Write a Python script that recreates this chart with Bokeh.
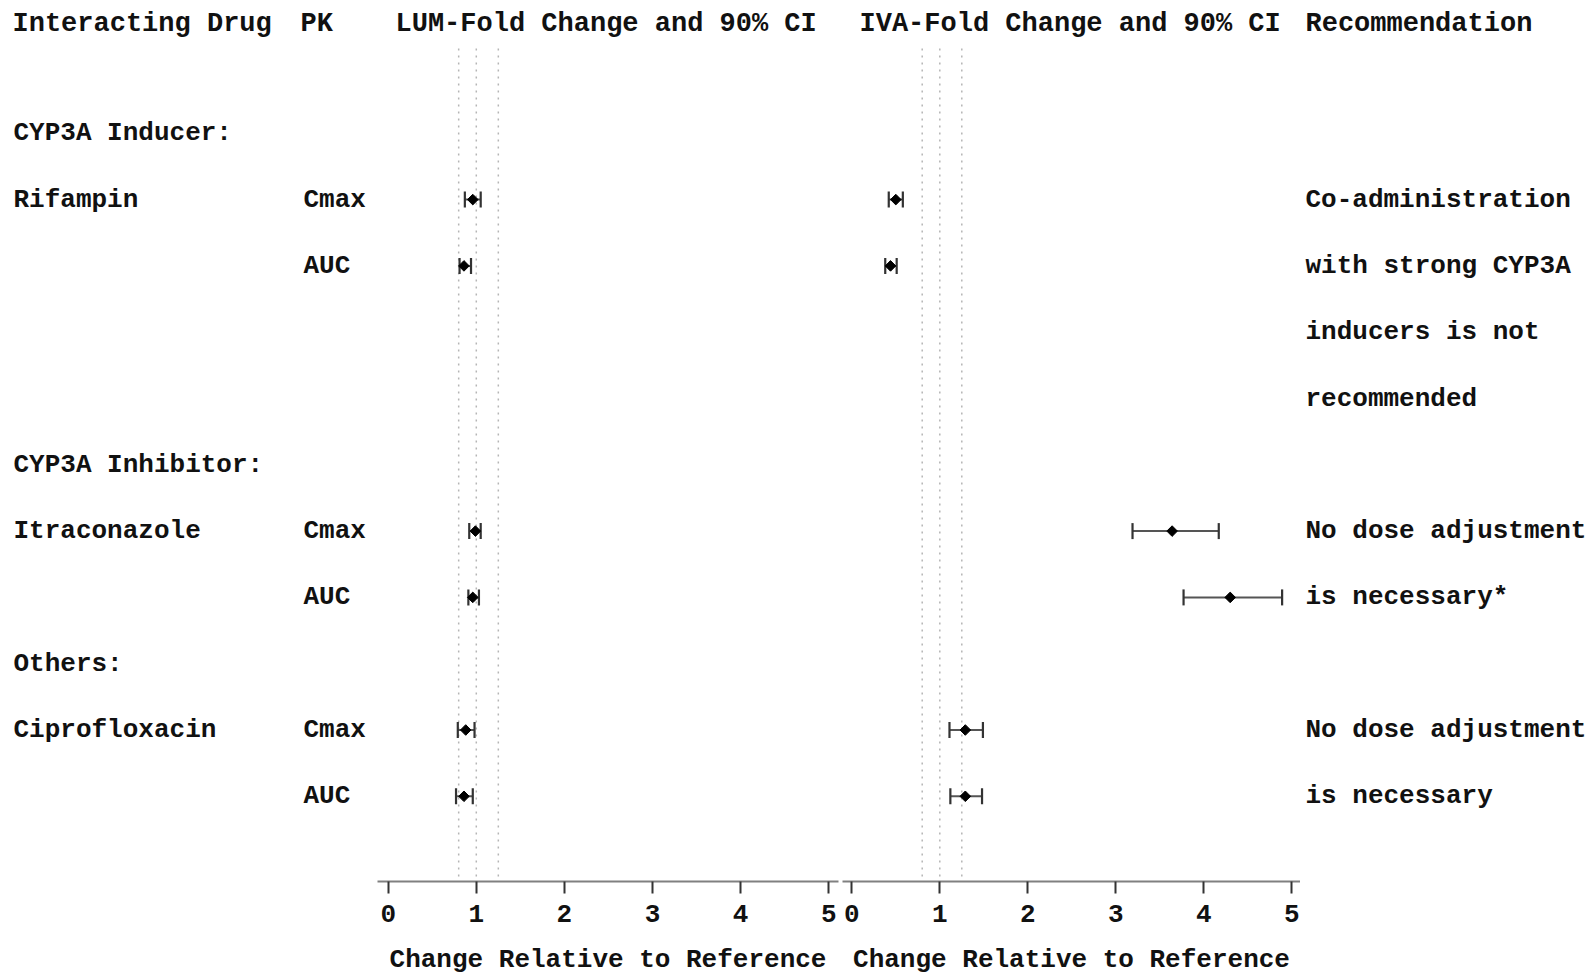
import math
from bokeh.plotting import figure
from bokeh.models import ColumnDataSource, Range1d, FixedTicker
from bokeh.layouts import row
from bokeh.core.properties import value
from bokeh.embed import file_html
from bokeh.resources import INLINE

# ---------------- data ----------------
headers = ["Interacting Drug", "PK", "LUM-Fold Change and 90% CI",
           "IVA-Fold Change and 90% CI", "Recommendation"]
group_labels = ["CYP3A Inducer:", "CYP3A Inhibitor:", "Others:"]
group_rows = [0, 5, 8]
drugs = ["Rifampin", "Itraconazole", "Ciprofloxacin"]
drug_rows = [1, 6, 9]
pk_labels = ["Cmax", "AUC", "Cmax", "AUC", "Cmax", "AUC"]
pk_rows = [1, 2, 6, 7, 9, 10]

lum_est = [0.96, 0.86, 0.99, 0.96, 0.88, 0.86]
lum_lo = [0.87, 0.81, 0.92, 0.91, 0.79, 0.77]
lum_hi = [1.05, 0.94, 1.05, 1.03, 0.98, 0.96]

iva_est = [0.50, 0.44, 3.64, 4.30, 1.29, 1.29]
iva_lo = [0.42, 0.38, 3.19, 3.77, 1.11, 1.12]
iva_hi = [0.58, 0.51, 4.17, 4.89, 1.49, 1.48]

rec_lines = ["Co-administration", "with strong CYP3A", "inducers is not",
             "recommended", "No dose adjustment", "is necessary*",
             "No dose adjustment", "is necessary"]
rec_rows = [1, 2, 3, 4, 6, 7, 9, 10]

ref_lines = [0.8, 1.0, 1.25]
ticks = [0, 1, 2, 3, 4, 5]
axis_title = "Change Relative to Reference"

# ---------------- layout (page pixels) ----------------
FONT = value("Liberation Mono")
FS = "26px"
FS_HEAD = "27px"
FRAME_TOP = 0
AXIS_Y = 881
ROW0_Y = 132.8
ROW_STEP = 66.3
HEADER_Y = 23.3
REF_TOP_Y = 48
FRAME_H = AXIS_Y - FRAME_TOP
BOTTOM = 88


def yrow(py):
    return (py - ROW0_Y) / ROW_STEP


Y_START = yrow(AXIS_Y)
Y_END = yrow(FRAME_TOP)
HEADER_ROW = yrow(HEADER_Y)


def base_fig(x_range, fw, axis=False, mbr=0):
    p = figure(frame_width=fw, frame_height=FRAME_H, x_range=x_range,
               y_range=Range1d(Y_START, Y_END), output_backend="svg",
               toolbar_location=None, min_border=0,
               min_border_right=mbr,
               min_border_bottom=0 if axis else BOTTOM)
    p.outline_line_color = None
    p.xgrid.visible = False
    p.ygrid.visible = False
    p.yaxis.visible = False
    p.background_fill_color = "white"
    p.border_fill_color = "white"
    if not axis:
        p.xaxis.visible = False
    return p


def add_text(p, xs, ys, texts, size=FS):
    src = ColumnDataSource(dict(x=xs, y=ys, t=texts))
    p.text(x="x", y="y", text="t", source=src, text_font=FONT,
           text_font_size=size, text_font_style="bold", text_color="#111111",
           text_align="left", text_baseline="middle")


# left text column
left = base_fig(Range1d(0, 377), 377)
add_text(left, [12, 300], [HEADER_ROW, HEADER_ROW], headers[:2], FS_HEAD)
add_text(left, [13] * 3, group_rows, group_labels)
add_text(left, [13] * 3, drug_rows, drugs)
add_text(left, [303] * 6, pk_rows, pk_labels)


def panel(px0, px1, zero_px, unit, fw, mbr, header, header_px, est, lo, hi):
    xr = Range1d((px0 - zero_px) / unit, (px1 - zero_px) / unit)
    p = base_fig(xr, fw, axis=True, mbr=mbr)
    ax = p.xaxis[0]
    ax.ticker = FixedTicker(ticks=ticks, minor_ticks=[])
    ax.axis_label = axis_title
    ax.axis_label_text_font = "Liberation Mono"
    ax.axis_label_text_font_size = FS
    ax.axis_label_text_font_style = "bold"
    ax.axis_label_text_color = "#111111"
    ax.axis_label_standoff = 20
    ax.major_label_text_font = "Liberation Mono"
    ax.major_label_text_font_size = FS
    ax.major_label_text_font_style = "bold"
    ax.major_label_text_color = "#111111"
    ax.major_label_standoff = 11
    ax.axis_line_color = "#808080"
    ax.axis_line_width = 2
    ax.major_tick_line_color = "#333333"
    ax.major_tick_line_width = 2
    ax.major_tick_out = 12
    ax.major_tick_in = 0
    ax.minor_tick_line_color = None

    ref_top = yrow(REF_TOP_Y)
    p.segment(x0=ref_lines, x1=ref_lines, y0=[ref_top] * 3, y1=[Y_START] * 3,
              line_color="#b5b5b5", line_width=1.5, line_dash="2 5")

    src = ColumnDataSource(dict(est=est, lo=lo, hi=hi, y=pk_rows))
    p.segment(x0="lo", x1="hi", y0="y", y1="y", source=src,
              line_color="#555555", line_width=2)
    p.scatter(x="lo", y="y", source=src, marker="dash", size=16,
              angle=math.pi / 2, line_color="#333333", line_width=2.2)
    p.scatter(x="hi", y="y", source=src, marker="dash", size=16,
              angle=math.pi / 2, line_color="#333333", line_width=2.2)
    p.scatter(x="est", y="y", source=src, marker="square", size=7.5,
              angle=math.pi / 4, fill_color="black", line_color="black",
              line_width=1)
    add_text(p, [(header_px - zero_px) / unit], [HEADER_ROW], [header], FS_HEAD)
    return p


lum = panel(377, 838, 387.7, 88.1, 461, 4, headers[2], 395,
            lum_est, lum_lo, lum_hi)
iva = panel(842, 1300, 851.3, 88.0, 458, 0, headers[3], 859,
            iva_est, iva_lo, iva_hi)

rec = base_fig(Range1d(1300, 1589), 289)
add_text(rec, [1305], [HEADER_ROW], [headers[4]], FS_HEAD)
add_text(rec, [1305] * len(rec_lines), rec_rows, rec_lines)

layout = row(left, lum, iva, rec)
open("out.html", "w").write(file_html(layout, INLINE))
